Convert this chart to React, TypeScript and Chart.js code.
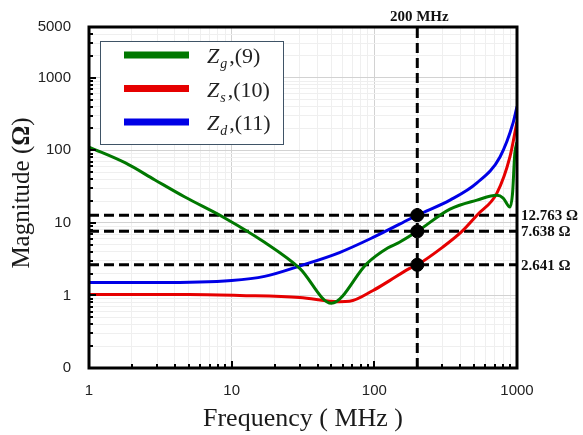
import React, { useEffect, useRef } from "react";
import { Chart, registerables } from "chart.js";

Chart.register(...registerables);

// ---- data ----
const freqG = [1, 1.8, 2.9, 4.7, 9, 17, 30, 50, 89, 124, 150, 200, 339, 524, 723, 800, 892, 930, 965, 1000];
const zG = [111, 67, 39, 22.7, 11.6, 5.4, 2.36, 0.78, 2.77, 4.5, 5.4, 7.638, 15.5, 20.6, 24, 22, 16.5, 25, 90, 130];

const freqS = [1, 5, 11.4, 30, 57, 67, 98, 128, 177, 200, 300, 411, 524, 723, 892, 1000];
const zS = [1.03, 1.03, 1.0, 0.94, 0.82, 0.83, 1.17, 1.6, 2.36, 2.641, 4.6, 7.638, 12.763, 25.7, 81, 247];

const freqD = [1, 3, 10, 17, 31, 57, 98, 177, 200, 339, 524, 760, 940, 1000];
const zD = [1.51, 1.51, 1.61, 1.83, 2.6, 3.9, 6.3, 11.3, 12.763, 20.6, 35.5, 81, 240, 400];

const markerFreq = 200;
const markerValues = [12.763, 7.638, 2.641];

const seriesNames = ["g", "s", "d"];
const seriesRefs = ["(9)", "(10)", "(11)"];
const seriesColors = ["#007800", "#e60000", "#0000e6"];

const xTickLabels: Record<string, string> = { "1": "1", "10": "10", "100": "100", "1000": "1000" };
const yTickLabels: Record<string, string> = { "0.1": "0", "1": "1", "10": "10", "100": "100", "1000": "1000", "5000": "5000" };

const X_MIN = 1, X_MAX = 1000, Y_MIN = 0.1, Y_MAX = 5000;

const isDecade = (v: number) => Math.abs(Math.log10(v) - Math.round(Math.log10(v))) < 1e-6;
const keyOf = (v: number) => String(parseFloat(v.toPrecision(6)));

function logTicks(min: number, max: number) {
  const out: { value: number; major: boolean }[] = [];
  for (let e = Math.floor(Math.log10(min)); e <= Math.ceil(Math.log10(max)); e++) {
    for (let m = 1; m <= 9; m++) {
      const v = parseFloat((m * Math.pow(10, e)).toPrecision(6));
      if (v >= min - 1e-9 && v <= max + 1e-9) out.push({ value: v, major: m === 1 });
    }
  }
  return out;
}

const SERIF = "'Liberation Serif', 'Times New Roman', serif";

const decorPlugin = {
  id: "decor",
  afterDraw(chart: any) {
    const { ctx, chartArea: a, scales } = chart;
    const xs = scales.x, ys = scales.y;
    ctx.save();
    // inside tick marks
    ctx.strokeStyle = "#000";
    ctx.lineWidth = 2;
    for (const t of logTicks(Y_MIN, Y_MAX)) {
      const y = Math.round(ys.getPixelForValue(t.value));
      const len = t.major ? 7 : 4;
      ctx.beginPath();
      ctx.moveTo(a.left, y);
      ctx.lineTo(a.left + len, y);
      ctx.stroke();
    }
    for (const t of logTicks(X_MIN, X_MAX)) {
      const x = Math.round(xs.getPixelForValue(t.value));
      const len = t.major ? 7 : 4;
      ctx.beginPath();
      ctx.moveTo(x, a.bottom);
      ctx.lineTo(x, a.bottom - len);
      ctx.stroke();
    }
    // frame
    ctx.lineWidth = 3;
    ctx.strokeRect(a.left, a.top, a.right - a.left, a.bottom - a.top);

    // legend
    const lx = 100, ly = 41, lw = 183, lh = 103;
    ctx.fillStyle = "#fff";
    ctx.fillRect(lx, ly, lw, lh);
    ctx.lineWidth = 1;
    ctx.strokeStyle = "#3f5366";
    ctx.strokeRect(lx + 0.5, ly + 0.5, lw, lh);
    seriesNames.forEach((name, i) => {
      const cy = 55 + i * 33.5;
      ctx.strokeStyle = seriesColors[i];
      ctx.lineWidth = 7;
      ctx.beginPath();
      ctx.moveTo(124, cy);
      ctx.lineTo(189, cy);
      ctx.stroke();
      const base = cy + 8;
      let x = 207;
      ctx.fillStyle = "#222";
      ctx.textAlign = "left";
      ctx.textBaseline = "alphabetic";
      ctx.font = `italic 22px ${SERIF}`;
      ctx.fillText("Z", x, base);
      x += ctx.measureText("Z").width + 1;
      ctx.font = `italic 14px ${SERIF}`;
      ctx.fillText(name, x, base + 5);
      x += ctx.measureText(name).width + 2;
      ctx.font = `22px ${SERIF}`;
      ctx.fillText("," + seriesRefs[i], x, base);
    });

    // marker labels
    ctx.fillStyle = "#111";
    ctx.font = `bold 15px ${SERIF}`;
    ctx.textAlign = "left";
    ctx.textBaseline = "middle";
    markerValues.forEach((v) => {
      ctx.fillText(v.toFixed(3) + " Ω", a.right + 4, ys.getPixelForValue(v) + 1);
    });
    ctx.textAlign = "center";
    ctx.textBaseline = "alphabetic";
    ctx.fillText(markerFreq + " MHz", xs.getPixelForValue(markerFreq) + 2, 21);

    // axis titles
    ctx.fillStyle = "#1a1a1a";
    ctx.font = `26px ${SERIF}`;
    ctx.textAlign = "center";
    ctx.fillText("Frequency ( MHz )", 303, 426);

    ctx.save();
    ctx.translate(29, 193);
    ctx.rotate(-Math.PI / 2);
    ctx.font = `25px ${SERIF}`;
    const p1 = "Magnitude (", p3 = ")";
    const w1 = ctx.measureText(p1).width;
    const w3 = ctx.measureText(p3).width;
    ctx.font = `bold 25px ${SERIF}`;
    const w2 = ctx.measureText("Ω").width;
    const sx = -(w1 + w2 + w3) / 2;
    ctx.textAlign = "left";
    ctx.font = `25px ${SERIF}`;
    ctx.fillText(p1, sx, 0);
    ctx.font = `bold 25px ${SERIF}`;
    ctx.fillText("Ω", sx + w1, 0);
    ctx.font = `25px ${SERIF}`;
    ctx.fillText(p3, sx + w1 + w2, 0);
    ctx.restore();

    ctx.restore();
  },
};

const toXY = (xs: number[], ys: number[]) => xs.map((x, i) => ({ x, y: ys[i] }));

export default function App() {
  const ref = useRef<HTMLCanvasElement>(null);
  useEffect(() => {
    if (!ref.current) return;
    const curve = (data: any, color: string) => ({
      type: "line",
      data,
      borderColor: color,
      borderWidth: 3,
      pointRadius: 0,
      cubicInterpolationMode: "monotone",
      fill: false,
      order: 2,
    });
    const dashed = (data: any) => ({
      type: "line",
      data,
      borderColor: "#000",
      borderWidth: 3,
      borderDash: [10, 5],
      pointRadius: 0,
      fill: false,
      order: 3,
    });
    const chart = new Chart(ref.current, {
      type: "line",
      data: {
        datasets: [
          curve(toXY(freqG, zG), seriesColors[0]),
          curve(toXY(freqS, zS), seriesColors[1]),
          curve(toXY(freqD, zD), seriesColors[2]),
          ...markerValues.map((v) => dashed([{ x: X_MIN, y: v }, { x: X_MAX, y: v }])),
          dashed([{ x: markerFreq, y: Y_MIN }, { x: markerFreq, y: Y_MAX }]),
          {
            type: "scatter",
            data: markerValues.map((v) => ({ x: markerFreq, y: v })),
            pointRadius: 6.5,
            pointBackgroundColor: "#000",
            pointBorderColor: "#000",
            showLine: false,
            order: 1,
          },
        ] as any,
      },
      options: {
        animation: false,
        responsive: false,
        layout: { padding: { left: 0, top: 27, right: 66, bottom: 0 } },
        plugins: { legend: { display: false }, tooltip: { enabled: false } },
        scales: {
          x: {
            type: "logarithmic",
            min: X_MIN,
            max: X_MAX,
            afterBuildTicks: (s: any) => { s.ticks = logTicks(X_MIN, X_MAX); },
            afterFit: (s: any) => { s.height = 435 - 368; },
            grid: {
              drawTicks: false,
              color: (c: any) => (c.tick && isDecade(c.tick.value) ? "#d2d2d2" : "#efefef"),
              lineWidth: 1,
            },
            border: { display: false },
            ticks: {
              autoSkip: false,
              maxRotation: 0,
              padding: 14,
              color: "#222",
              font: { family: "'Liberation Sans', Arial, sans-serif", size: 15 },
              callback: (v: any) => xTickLabels[keyOf(Number(v))] ?? "",
            },
          },
          y: {
            type: "logarithmic",
            min: Y_MIN,
            max: Y_MAX,
            afterBuildTicks: (s: any) => { s.ticks = logTicks(Y_MIN, Y_MAX); },
            afterFit: (s: any) => { s.width = 89; },
            grid: {
              drawTicks: false,
              color: (c: any) => (c.tick && isDecade(c.tick.value) ? "#d2d2d2" : "#efefef"),
              lineWidth: 1,
            },
            border: { display: false },
            ticks: {
              autoSkip: false,
              padding: 18,
              color: "#222",
              font: { family: "'Liberation Sans', Arial, sans-serif", size: 15 },
              callback: (v: any) => yTickLabels[keyOf(Number(v))] ?? "",
            },
          },
        },
      } as any,
      plugins: [decorPlugin],
    });
    return () => chart.destroy();
  }, []);
  return (
    <div style={{ position: "absolute", left: 0, top: 0, width: 583, height: 435, background: "#fff" }}>
      <canvas ref={ref} width={583} height={435} style={{ width: 583, height: 435 }} />
    </div>
  );
}
